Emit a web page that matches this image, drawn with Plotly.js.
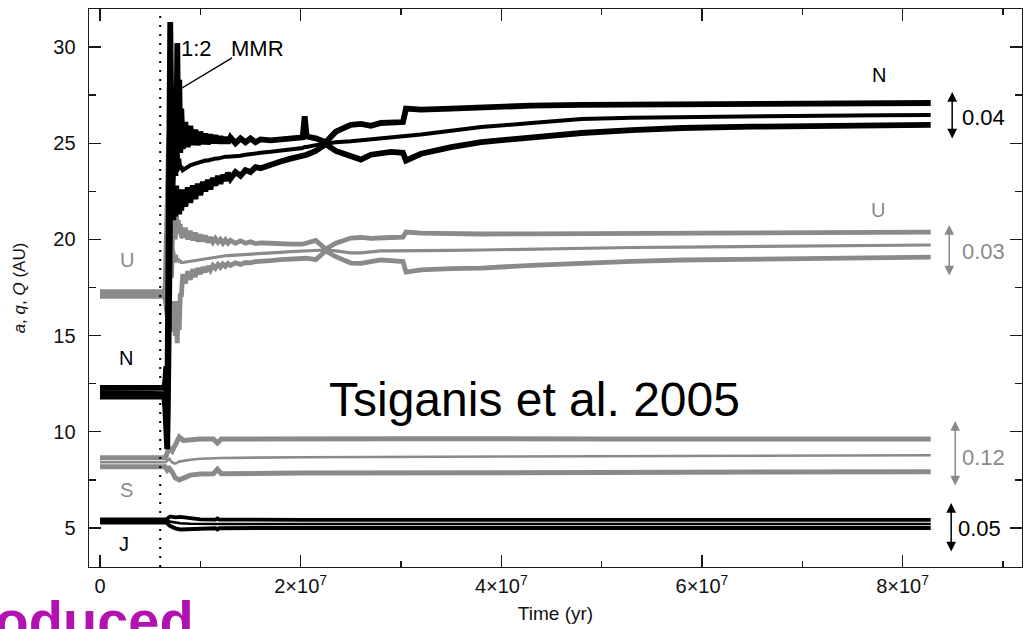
<!DOCTYPE html>
<html>
<head>
<meta charset="utf-8">
<script src="https://cdn.plot.ly/plotly-3.0.1.min.js"></script>
<style>html,body{margin:0;padding:0;background:#fff;}#chart{width:1028px;height:629px;}</style>
</head>
<body>
<div id="chart"></div>
<script>
// ---------- DATA ----------
// Time samples (yr) shared by Neptune and Uranus curves
const timeOuterYr = [0, 6.4e6, 6.5e6, 6.6e6, 6.7e6, 6.8e6, 6.9e6, 7.0e6, 7.1e6, 7.2e6, 7.3e6, 7.4e6, 7.5e6, 7.6e6, 7.7e6, 7.8e6, 7.9e6, 8.0e6, 8.1e6,
  8.25e6, 8.5e6, 8.75e6, 9.0e6, 9.25e6, 9.5e6, 9.75e6, 1.0e7, 1.025e7, 1.05e7, 1.075e7, 1.1e7, 1.125e7, 1.15e7, 1.175e7, 1.2e7, 1.225e7, 1.25e7, 1.275e7, 1.3e7,
  1.35e7, 1.4e7, 1.45e7, 1.5e7, 1.55e7, 1.6e7,
  1.7e7, 1.8e7, 1.9e7, 2.02e7, 2.04e7, 2.06e7, 2.15e7, 2.25e7, 2.35e7, 2.5e7, 2.6e7, 2.7e7, 2.8e7, 2.9e7, 3.02e7, 3.05e7, 3.2e7, 3.5e7, 3.8e7, 4.3e7, 4.8e7, 5.3e7, 5.8e7, 6.5e7, 7.2e7, 7.8e7, 8.28e7];

// Neptune: aphelion Q, semi-major axis a, perihelion q (AU)
const neptuneQ = [12.28, 12.28, 12.6, 13.4, 10.6, 20.0, 29.5, 31.3, 27.0, 23.6, 23.8, 24.0, 27.5, 23.5, 30.2, 25.0, 28.3, 24.5, 26.8,
  24.7, 26.1, 24.8, 25.9, 24.9, 25.7, 24.9, 25.6, 24.95, 25.5, 24.95, 25.45, 25.0, 25.4, 25.0, 25.35, 25.0, 25.3, 25.0, 25.3,
  25.0, 25.25, 25.05, 25.25, 25.05, 25.2,
  25.15, 25.2, 25.25, 25.3, 26.4, 25.35, 25.25, 25.05, 25.6, 25.95, 26.0, 25.9, 26.05, 26.05, 26.1, 26.8, 26.75, 26.8, 26.88, 26.95, 26.99, 27.0, 27.0, 27.04, 27.06, 27.08, 27.09];
const neptuneA = [12.05, 12.05, 12.0, 11.8, 10.2, 16.0, 24.0, 27.0, 25.0, 23.3, 22.5, 23.8, 24.5, 23.3, 25.0, 23.8, 24.2, 23.6, 23.8,
  23.6, 23.7, 23.8, 23.85, 23.9, 23.95, 24.0, 24.05, 24.05, 24.1, 24.1, 24.15, 24.15, 24.2, 24.2, 24.25, 24.25, 24.3, 24.3, 24.3,
  24.35, 24.35, 24.4, 24.45, 24.5, 24.5,
  24.55, 24.6, 24.65, 24.75, 24.8, 24.8, 24.9, 25.0, 25.05, 25.1, 25.15, 25.2, 25.25, 25.3, 25.35, 25.35, 25.45, 25.65, 25.84, 26.05, 26.26, 26.32, 26.36, 26.4, 26.43, 26.45, 26.46];
const neptuneq = [11.83, 11.83, 11.3, 10.4, 9.1, 13.0, 19.0, 22.0, 21.5, 22.5, 21.0, 22.5, 21.2, 22.8, 21.5, 22.5, 21.3, 22.6, 21.5,
  22.6, 21.7, 22.7, 21.9, 22.8, 22.1, 22.9, 22.3, 23.0, 22.5, 23.1, 22.6, 23.2, 22.8, 23.3, 22.9, 23.35, 23.05, 23.45, 23.15,
  23.5, 23.3, 23.6, 23.5, 23.75, 23.7,
  23.9, 24.05, 24.2, 24.3, 24.35, 24.4, 24.6, 24.95, 24.6, 24.3, 24.15, 24.4, 24.5, 24.55, 24.5, 24.1, 24.45, 24.8, 25.06, 25.3, 25.53, 25.68, 25.79, 25.86, 25.9, 25.93, 25.95];

// Uranus
const uranusQ = [17.28, 17.28, 17.6, 19.0, 22.0, 24.5, 25.6, 24.0, 21.0, 19.5, 22.0, 21.0, 20.0, 21.5, 20.5, 21.0, 20.3, 20.8, 20.2,
  20.1, 20.6, 20.0, 20.45, 19.95, 20.35, 19.9, 20.25, 19.9, 20.2, 19.85, 20.1, 19.85, 20.05, 19.85, 20.0, 19.8, 19.98, 19.8, 19.95,
  19.8, 19.92, 19.8, 19.88, 19.78, 19.82,
  19.8, 19.75, 19.75, 19.75, 19.78, 19.8, 19.95, 19.5, 19.8, 20.07, 20.1, 20.05, 20.05, 20.1, 20.12, 20.38, 20.33, 20.3, 20.28, 20.29, 20.3, 20.32, 20.33, 20.35, 20.36, 20.37, 20.38];
const uranusA = [17.16, 17.16, 17.2, 17.8, 19.0, 20.5, 21.0, 20.0, 19.0, 18.0, 19.5, 19.2, 18.8, 19.2, 18.9, 19.0, 18.8, 18.9, 18.8,
  18.8, 18.82, 18.85, 18.88, 18.9, 18.93, 18.95, 18.98, 19.0, 19.02, 19.04, 19.06, 19.08, 19.1, 19.11, 19.12, 19.14, 19.15, 19.16, 19.17,
  19.19, 19.21, 19.23, 19.25, 19.27, 19.28,
  19.3, 19.33, 19.36, 19.39, 19.4, 19.41, 19.43, 19.45, 19.4, 19.3, 19.3, 19.35, 19.4, 19.4, 19.4, 19.4, 19.42, 19.43, 19.45, 19.5, 19.55, 19.58, 19.6, 19.64, 19.67, 19.7, 19.71];
const uranusq = [17.04, 17.04, 16.9, 16.5, 16.0, 16.5, 17.0, 16.0, 15.5, 16.5, 15.2, 16.8, 15.0, 16.5, 14.6, 16.8, 15.3, 17.2, 17.0,
  18.2, 17.7, 18.35, 17.9, 18.45, 18.05, 18.5, 18.2, 18.55, 18.3, 18.6, 18.4, 18.65, 18.5, 18.7, 18.55, 18.72, 18.6, 18.75, 18.65,
  18.78, 18.7, 18.8, 18.78, 18.85, 18.85,
  18.9, 18.95, 19.0, 19.05, 19.05, 19.02, 18.95, 19.4, 19.1, 18.77, 18.75, 18.85, 18.93, 18.9, 18.85, 18.3, 18.42, 18.48, 18.51, 18.65, 18.77, 18.86, 18.93, 18.98, 19.02, 19.05, 19.08];

// Saturn
const timeSaturnYr = [0, 6.5e6, 6.7e6, 6.9e6, 7.2e6, 7.5e6, 7.9e6, 8.3e6, 9.0e6, 1.0e7, 1.13e7, 1.17e7, 1.21e7, 2.0e7, 3.0e7, 5.0e7, 8.28e7];
const saturnQ = [8.65, 8.65, 8.9, 9.16, 9.0, 9.3, 9.73, 9.55, 9.6, 9.62, 9.62, 9.42, 9.63, 9.65, 9.64, 9.63, 9.63];
const saturnA = [8.42, 8.42, 8.5, 8.6, 8.4, 8.35, 8.45, 8.5, 8.55, 8.6, 8.62, 8.63, 8.64, 8.68, 8.7, 8.74, 8.78];
const saturnq = [8.18, 8.18, 8.0, 8.1, 7.9, 7.6, 7.5, 7.6, 7.75, 7.81, 7.82, 8.05, 7.82, 7.86, 7.86, 7.88, 7.93];

// Jupiter
const timeJupiterYr = [0, 6.6e6, 7.0e6, 7.5e6, 8.0e6, 9.0e6, 1.0e7, 1.15e7, 1.17e7, 1.19e7, 2.0e7, 5.0e7, 8.28e7];
const jupiterQ = [5.45, 5.45, 5.6, 5.55, 5.58, 5.5, 5.45, 5.44, 5.5, 5.44, 5.42, 5.42, 5.42];
const jupiterA = [5.37, 5.37, 5.33, 5.28, 5.25, 5.22, 5.21, 5.21, 5.21, 5.21, 5.21, 5.21, 5.21];
const jupiterq = [5.29, 5.29, 5.1, 4.98, 4.92, 4.95, 4.98, 4.99, 4.93, 4.99, 5.0, 5.0, 5.0];

// Ticks
const xTickVals = [0, 2e7, 4e7, 6e7, 8e7];
const xTickText = ['0', '2×10<sup>7</sup>', '4×10<sup>7</sup>', '6×10<sup>7</sup>', '8×10<sup>7</sup>'];
const xMinorVals = [1e7, 3e7, 5e7, 7e7, 9e7];
const yTickVals = [5, 10, 15, 20, 25, 30];
const yTickText = ['5', '10', '15', '20', '25', '30'];
const yMinorVals = [7.5, 12.5, 17.5, 22.5, 27.5];

// Eccentricity range labels
const eccLabels = ['0.04', '0.03', '0.12', '0.05'];
const planetNames = ['J', 'S', 'U', 'N'];
const instabilityTimeYr = 6.0e6;

// ---------- STYLE ----------
const BLACK = '#000000';
const GRAY = '#8a8a8a';
const FONT = 'Liberation Sans, Arial, Helvetica, sans-serif';

function line(x, y, color, width) {
  return {x: x, y: y, type: 'scatter', mode: 'lines', hoverinfo: 'skip', showlegend: false,
          line: {color: color, width: width, shape: 'linear'}};
}

const traces = [
  line(timeOuterYr, uranusQ, GRAY, 4.8),
  line(timeOuterYr, uranusA, GRAY, 3.2),
  line(timeOuterYr, uranusq, GRAY, 4.8),
  line(timeSaturnYr, saturnQ, GRAY, 5),
  line(timeSaturnYr, saturnA, GRAY, 2.6),
  line(timeSaturnYr, saturnq, GRAY, 5),
  line(timeOuterYr, neptuneQ, BLACK, 5.8),
  line(timeOuterYr, neptuneA, BLACK, 4),
  line(timeOuterYr, neptuneq, BLACK, 5.8),
  line(timeJupiterYr, jupiterQ, BLACK, 3.8),
  line(timeJupiterYr, jupiterA, BLACK, 2.6),
  line(timeJupiterYr, jupiterq, BLACK, 4)
];

function txt(x, y, text, color, size, xanchor) {
  return {x: x, y: y, xref: 'x', yref: 'y', text: text, showarrow: false,
          xanchor: xanchor || 'center', yanchor: 'middle',
          font: {family: FONT, size: size, color: color}};
}
function dblArrow(x, yTop, yBot, color) {
  return {x: x, y: yTop, ax: x, ay: yBot, xref: 'x', yref: 'y', axref: 'x', ayref: 'y',
          text: '', showarrow: true, arrowside: 'end+start', arrowhead: 2, arrowsize: 1.3,
          arrowwidth: 1.5, arrowcolor: color};
}

const annotations = [
  // planet labels
  txt(2.7e6, 18.93, planetNames[2], GRAY, 20),
  txt(2.6e6, 13.84, planetNames[3], BLACK, 20),
  txt(2.6e6, 6.98, planetNames[1], GRAY, 20),
  txt(2.4e6, 4.17, planetNames[0], BLACK, 20),
  txt(7.76e7, 28.54, planetNames[3], BLACK, 20),
  txt(7.75e7, 21.53, planetNames[2], GRAY, 20),
  // eccentricity arrows and labels
  dblArrow(8.494e7, 27.66, 25.17, BLACK),
  dblArrow(8.465e7, 20.75, 18.05, GRAY),
  dblArrow(8.524e7, 10.56, 7.13, GRAY),
  dblArrow(8.484e7, 6.30, 3.70, BLACK),
  txt(8.57e7, 26.36, eccLabels[0], BLACK, 22, 'left'),
  txt(8.57e7, 19.35, eccLabels[1], GRAY, 22, 'left'),
  txt(8.57e7, 8.69, eccLabels[2], GRAY, 22, 'left'),
  txt(8.53e7, 5.0, eccLabels[3], BLACK, 22, 'left'),
  // resonance label
  txt(7.9e6, 29.9, '1:2', BLACK, 22, 'left'),
  txt(1.29e7, 29.9, 'MMR', BLACK, 22, 'left'),
  // citation
  txt(4.33e7, 11.7, 'Tsiganis et al. 2005', BLACK, 48),
  // watermark, partly cut off by the left edge
  {x: -0.24, y: -0.095, xref: 'paper', yref: 'paper', text: '<b>Reproduced</b>', showarrow: false,
   xanchor: 'left', yanchor: 'middle', font: {family: FONT, size: 56, color: '#b312b3'}}
];

const shapes = [
  {type: 'line', xref: 'x', yref: 'paper', x0: instabilityTimeYr, x1: instabilityTimeYr, y0: 0, y1: 1,
   line: {color: BLACK, width: 2, dash: '2px,7px'}},
  {type: 'line', xref: 'x', yref: 'y', x0: 6.68e6, y0: 27.4, x1: 1.316e7, y1: 29.43,
   line: {color: BLACK, width: 1.4}}
];

const axisCommon = {
  showgrid: false, zeroline: false, showline: true, linecolor: '#1a1a1a', linewidth: 1.4,
  mirror: 'ticks', ticks: 'inside', ticklen: 12, tickwidth: 1.4, tickcolor: '#1a1a1a',
  tickfont: {family: FONT, size: 20, color: '#111'}
};

const layout = {
  width: 1028, height: 629,
  margin: {l: 89, r: 6, t: 9, b: 62, pad: 0},
  paper_bgcolor: '#ffffff', plot_bgcolor: '#ffffff',
  showlegend: false,
  xaxis: Object.assign({}, axisCommon, {
    range: [-1.097e6, 9.19e7], tickmode: 'array', tickvals: xTickVals, ticktext: xTickText,
    minor: {tickmode: 'array', tickvals: xMinorVals, ticks: 'inside', ticklen: 6, tickwidth: 1.4, tickcolor: '#1a1a1a', showgrid: false},
    ticklabelstandoff: 1,
    title: {text: 'Time (yr)', font: {family: FONT, size: 19, color: '#111'}, standoff: 10}
  }),
  yaxis: Object.assign({}, axisCommon, {
    range: [2.973, 31.975], tickmode: 'array', tickvals: yTickVals, ticktext: yTickText,
    minor: {tickmode: 'array', tickvals: yMinorVals, ticks: 'inside', ticklen: 7, tickwidth: 1.4, tickcolor: '#1a1a1a', showgrid: false},
    ticklabelstandoff: 8,
    title: {text: '<i>a</i>, <i>q</i>, <i>Q</i> (AU)', font: {family: FONT, size: 17, color: '#111'}, standoff: 23}
  }),
  annotations: annotations,
  shapes: shapes
};

Plotly.newPlot('chart', traces, layout, {staticPlot: true, displayModeBar: false});
</script>
</body>
</html>
